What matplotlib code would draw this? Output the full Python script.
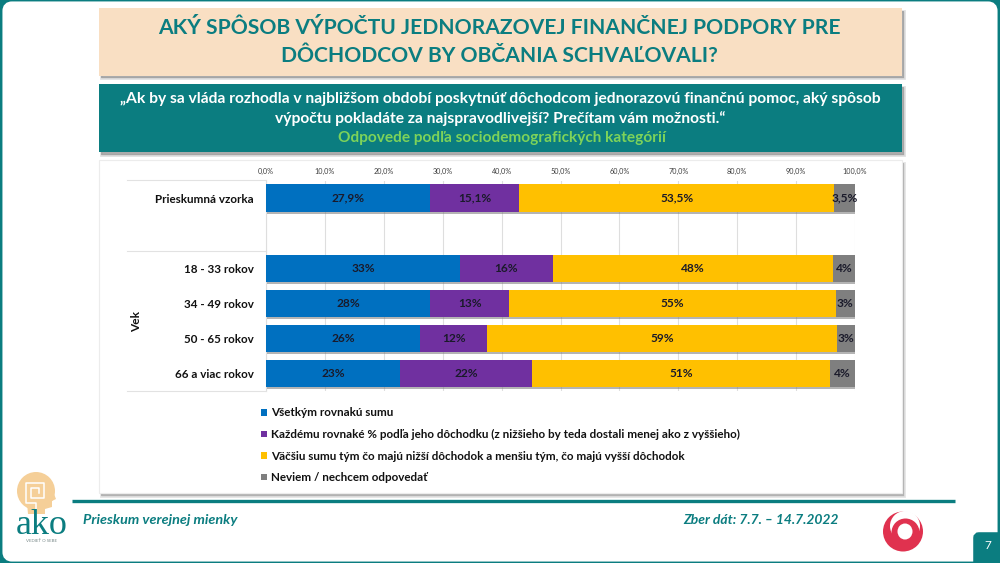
import matplotlib
matplotlib.use("Agg")
import matplotlib.pyplot as plt
import matplotlib.patheffects as pe
from matplotlib.patches import Rectangle, FancyBboxPatch, Ellipse, Circle, Polygon

plt.rcParams['font.family'] = ['Lato', 'DejaVu Sans']

# ---- data ----
categories = ["Prieskumná vzorka", "", "18 - 33 rokov", "34 - 49 rokov", "50 - 65 rokov", "66 a viac rokov"]
series_names = ["Všetkým rovnakú sumu",
                "Každému rovnaké % podľa jeho dôchodku (z nižšieho by teda dostali menej ako z vyššieho)",
                "Väčšiu sumu tým čo majú nižší dôchodok a menšiu tým, čo majú vyšší dôchodok",
                "Neviem / nechcem odpovedať"]
equal_sum = [27.9, 0, 32.9, 27.9, 26.2, 22.8]
equal_pct = [15.1, 0, 15.8, 13.4, 11.4, 22.3]
more_low = [53.5, 0, 47.5, 55.4, 59.3, 50.7]
dont_know = [3.5, 0, 3.8, 3.3, 3.1, 4.2]
equal_sum_lab = ["27,9%", "", "33%", "28%", "26%", "23%"]
equal_pct_lab = ["15,1%", "", "16%", "13%", "12%", "22%"]
more_low_lab = ["53,5%", "", "48%", "55%", "59%", "51%"]
dont_know_lab = ["3,5%", "", "4%", "3%", "3%", "4%"]
tick_values = [0, 10, 20, 30, 40, 50, 60, 70, 80, 90, 100]
tick_labels = ["0,0%", "10,0%", "20,0%", "30,0%", "40,0%", "50,0%", "60,0%", "70,0%", "80,0%", "90,0%", "100,0%"]
colors = ["#0070C0", "#7030A0", "#FFC000", "#7F7F7F"]

TEAL = "#0B7D80"
W, H = 1000, 563
fig = plt.figure(figsize=(10, 5.63), dpi=100, facecolor=TEAL)

# ---- slide canvas in pixel coordinates ----
bg = fig.add_axes([0, 0, 1, 1], zorder=0)
bg.set_xlim(0, W); bg.set_ylim(H, 0); bg.axis("off")

bg.add_patch(FancyBboxPatch((8, 7), W - 16, H - 14, boxstyle="round,pad=0,rounding_size=4",
                            fc="white", ec="white", lw=8))

def panel(x0, y0, x1, y1, fc, shadow="#9a9a9a", off=2.5):
    bg.add_patch(Rectangle((x0 + off * .6, y0 + off), x1 - x0, y1 - y0, fc=shadow, ec="none", alpha=.75,
                           path_effects=[pe.withStroke(linewidth=2, foreground=shadow, alpha=.3)]))
    bg.add_patch(Rectangle((x0, y0), x1 - x0, y1 - y0, fc=fc, ec="none"))

panel(99, 8, 902, 75.5, "#F9DFC3")
panel(99, 84, 902, 152, TEAL)
panel(99, 160, 902, 493, "white", shadow="#a8a8a8", off=2.5)
bg.add_patch(Rectangle((99, 160), 803, 333, fc="none", ec="#ececec", lw=.8))

bg.text(499.5, 28.5, "AKÝ SPÔSOB VÝPOČTU JEDNORAZOVEJ FINANČNEJ PODPORY PRE", ha="center", va="center",
        fontsize=15.2, fontweight="bold", color=TEAL)
bg.text(499.5, 56.5, "DÔCHODCOV BY OBČANIA SCHVAĽOVALI?", ha="center", va="center",
        fontsize=15.2, fontweight="bold", color=TEAL)
bg.text(500, 99, "„Ak by sa vláda rozhodla v najbližšom období poskytnúť dôchodcom jednorazovú finančnú pomoc, aký spôsob",
        ha="center", va="center", fontsize=11.25, fontweight="bold", color="white")
bg.text(500, 118.5, "výpočtu pokladáte za najspravodlivejší? Prečítam vám možnosti.“",
        ha="center", va="center", fontsize=11.25, fontweight="bold", color="white")
bg.text(502, 138, "Odpovede podľa sociodemografických kategórií",
        ha="center", va="center", fontsize=11.1, fontweight="bold", color="#7DD35A")

# footer
bg.plot([72, 955], [501, 501], color=TEAL, lw=2.4, solid_capstyle="butt")
bg.text(83, 520.5, "Prieskum verejnej mienky", ha="left", va="center", fontsize=10.4,
        fontweight="bold", fontstyle="italic", color=TEAL)
bg.text(839, 520.5, "Zber dát: 7.7. – 14.7.2022", ha="right", va="center", fontsize=10,
        fontweight="bold", fontstyle="italic", color=TEAL)
bg.add_patch(FancyBboxPatch((976, 535), 30, 30, boxstyle="round,pad=0,rounding_size=3", fc=TEAL, ec=TEAL, lw=4))
bg.text(987.5, 545.5, "7", ha="center", va="center", fontsize=8.5, color="white")

# AKO logo
PEACH = "#F5CF98"
bg.add_patch(Ellipse((36, 491), 38, 38, fc=PEACH, ec="none"))
bg.add_patch(Polygon([[50, 484], [56, 499], [52, 501], [52, 507], [45, 509], [45, 514], [28, 514], [27, 503]],
                     fc=PEACH, ec="none"))
bg.plot([36, 36, 26, 26, 44, 44, 31, 31, 39, 39], [513, 503, 503, 483, 483, 498, 498, 488, 488, 493],
        color="white", lw=1.1)
bg.text(42, 525, "ako", ha="center", va="center", fontsize=26, color=TEAL,
        family="Liberation Serif")
bg.text(42, 541.5, "VEDIEŤ O SEBE", ha="center", va="center", fontsize=3.2, color="#7a8a8a")

# JOJ logo
RED = "#E0324F"
bg.add_patch(Circle((903, 531.5), 20, fc=RED, ec="none"))
bg.add_patch(Circle((905, 526), 15, fc="white", ec="none"))
bg.add_patch(Circle((905.5, 532.5), 14, fc=RED, ec="none"))
bg.add_patch(Ellipse((905, 531.5), 15, 16, fc="white", ec="none"))

# ---- chart ----
ax = fig.add_axes([266 / W, 1 - 391 / H, (855 - 266) / W, (391 - 180.5) / H], zorder=2)
ax.patch.set_alpha(0)
ypos = list(range(len(categories)))
ax.set_xlim(0, 100)
ax.set_ylim(5.5, -0.5)
ax.set_axisbelow(True)
ax.grid(axis="x", color="#dedede", lw=.8)

left = [0.0] * len(categories)
series = [equal_sum, equal_pct, more_low, dont_know]
labels = [equal_sum_lab, equal_pct_lab, more_low_lab, dont_know_lab]
shadow = [pe.SimplePatchShadow(offset=(0.6, -1.5), shadow_rgbFace="#777777", alpha=.55), pe.Normal()]
for vals, labs, col, name in zip(series, labels, colors, series_names):
    bars = ax.barh(ypos, vals, left=left, height=0.78, color=col, label=name, zorder=3)
    for b in bars:
        b.set_path_effects(shadow)
    for y, v, l, lab in zip(ypos, vals, left, labs):
        if lab:
            ax.text(l + v / 2, y, lab, ha="center", va="center", fontsize=8.6, fontweight="bold",
                    color="#1a1a2a", zorder=5)
    left = [a + b for a, b in zip(left, vals)]

ax.xaxis.tick_top()
ax.set_xticks(tick_values)
ax.set_xticklabels(tick_labels, fontsize=5.2, color="#404040")
ax.tick_params(axis="x", length=0, pad=4)
ax.set_yticks(ypos)
ax.set_yticklabels(categories, fontsize=8.4, fontweight="bold", color="#111111")
ax.tick_params(axis="y", length=0, pad=9)
for s in ax.spines.values():
    s.set_visible(False)

# multilevel category frame
for yy in (180, 250.5, 390.5):
    bg.plot([127, 266], [yy, yy], color="#e2e2e2", lw=.8)
bg.plot([266, 266], [180, 390.5], color="#e2e2e2", lw=.8)
bg.text(136.5, 321, "Vek", rotation=90, ha="center", va="center", fontsize=8.6, fontweight="bold", color="#111111")

leg = ax.legend(loc="upper left", bbox_to_anchor=(261 / W, 1 - 407.5 / H), bbox_transform=fig.transFigure,
                frameon=False, handlelength=0.49, handleheight=0.49, handletextpad=0.37,
                labelspacing=0.9, borderpad=0, borderaxespad=0, labelcolor="#111111",
                prop={"weight": "bold", "size": 8.4})
for h in leg.legend_handles:
    h.set_path_effects([])

fig.savefig("out.png", dpi=100, facecolor=TEAL)
